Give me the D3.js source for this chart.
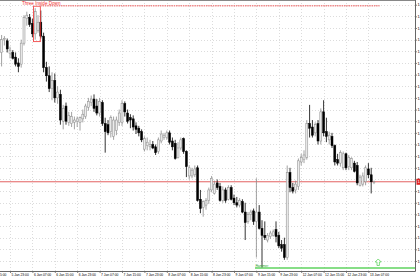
<!DOCTYPE html>
<html>
<head>
<meta charset="utf-8">
<script src="https://cdn.jsdelivr.net/npm/d3@7"></script>
<style>
body { margin: 0; background: #fff; }
svg { display: block; font-family: "Liberation Sans", Arial, sans-serif; }
</style>
</head>
<body>
<svg id="chart"></svg>
<script>
// H1 bars, 5 Jan 20:00 -> 13 Jan 09:00
var opens = [1.1899,1.1910,1.1909,1.1898,1.1899,1.1895,1.1890,1.1889,1.1907,1.1928,
    1.1929,1.1924,1.1915,1.1918,1.1925,1.1913,1.1886,1.1879,1.1868,1.1875,
    1.1860,1.1863,1.1840,1.1853,1.1839,1.1838,1.1839,1.1840,1.1839,1.1842,
    1.1844,1.1852,1.1856,1.1859,1.1853,1.1847,1.1856,1.1838,1.1837,1.1831,
    1.1827,1.1832,1.1839,1.1839,1.1855,1.1847,1.1843,1.1842,1.1836,1.1834,
    1.1831,1.1816,1.1819,1.1818,1.1820,1.1818,1.1814,1.1823,1.1826,1.1826,
    1.1830,1.1823,1.1821,1.1809,1.1817,1.1825,1.1814,1.1793,1.1793,1.1794,
    1.1800,1.1773,1.1766,1.1768,1.1772,1.1781,1.1778,1.1787,1.1784,1.1772,
    1.1781,1.1773,1.1783,1.1774,1.1770,1.1768,1.1771,1.1762,1.1754,1.1760,
    1.1763,1.1754,1.1762,1.1748,1.1742,1.1738,1.1741,1.1742,1.1747,1.1742,
    1.1734,1.1734,1.1723,1.1796,1.1783,1.1781,1.1784,1.1805,1.1807,1.1809,
    1.1838,1.1835,1.1830,1.1838,1.1823,1.1848,1.1831,1.1824,1.1827,1.1819,
    1.1807,1.1804,1.1800,1.1812,1.1801,1.1800,1.1804,1.1802,1.1785,1.1786,
    1.1788,1.1799,1.1794,1.1788];
var highs = [1.1914,1.1913,1.1911,1.1904,1.1901,1.1899,1.1894,1.1910,1.1931,1.1934,
    1.1932,1.1928,1.1937,1.1931,1.1935,1.1916,1.1891,1.1887,1.1882,1.1881,
    1.1870,1.1867,1.1854,1.1856,1.1848,1.1848,1.1844,1.1844,1.1844,1.1850,
    1.1855,1.1860,1.1862,1.1863,1.1859,1.1860,1.1858,1.1843,1.1841,1.1845,
    1.1844,1.1844,1.1850,1.1858,1.1857,1.1850,1.1846,1.1845,1.1839,1.1836,
    1.1833,1.1827,1.1826,1.1824,1.1823,1.1820,1.1826,1.1832,1.1830,1.1832,
    1.1832,1.1826,1.1824,1.1822,1.1826,1.1826,1.1815,1.1802,1.1800,1.1802,
    1.1802,1.1781,1.1772,1.1774,1.1783,1.1793,1.1789,1.1790,1.1787,1.1784,
    1.1783,1.1785,1.1785,1.1777,1.1775,1.1774,1.1773,1.1770,1.1762,1.1764,
    1.1765,1.1791,1.1768,1.1755,1.1754,1.1744,1.1746,1.1747,1.1754,1.1745,
    1.1738,1.1740,1.1802,1.1800,1.1787,1.1789,1.1808,1.1812,1.1815,1.1841,
    1.1854,1.1841,1.1839,1.1841,1.1851,1.1858,1.1843,1.1831,1.1830,1.1820,
    1.1812,1.1815,1.1814,1.1813,1.1811,1.1809,1.1806,1.1805,1.1794,1.1796,
    1.1802,1.1804,1.1800,1.1789];
var lows = [1.1887,1.1905,1.1899,1.1894,1.1893,1.1887,1.1882,1.1886,1.1905,1.1922,
    1.1921,1.1912,1.1910,1.1916,1.1911,1.1882,1.1874,1.1865,1.1858,1.1856,
    1.1855,1.1837,1.1833,1.1837,1.1836,1.1835,1.1833,1.1835,1.1832,1.1839,
    1.1842,1.1849,1.1853,1.1848,1.1845,1.1844,1.1836,1.1813,1.1828,1.1826,
    1.1824,1.1828,1.1836,1.1836,1.1844,1.1838,1.1834,1.1832,1.1829,1.1827,
    1.1822,1.1814,1.1815,1.1815,1.1816,1.1811,1.1812,1.1821,1.1824,1.1824,
    1.1820,1.1815,1.1807,1.1808,1.1815,1.1812,1.1792,1.1790,1.1791,1.1792,
    1.1771,1.1761,1.1758,1.1764,1.1769,1.1779,1.1777,1.1781,1.1771,1.1770,
    1.1770,1.1772,1.1772,1.1768,1.1766,1.1766,1.1761,1.1738,1.1752,1.1755,
    1.1751,1.1723,1.1747,1.1714,1.1738,1.1736,1.1739,1.1741,1.1736,1.1731,
    1.1728,1.1721,1.1721,1.1779,1.1778,1.1778,1.1781,1.1802,1.1804,1.1807,
    1.1826,1.1826,1.1827,1.1820,1.1820,1.1827,1.1822,1.1820,1.1817,1.1802,
    1.1802,1.1801,1.1798,1.1798,1.1798,1.1798,1.1796,1.1785,1.1784,1.1784,
    1.1785,1.1791,1.1778,1.1786];
var closes = [1.1910,1.1911,1.1902,1.1901,1.1894,1.1889,1.1887,1.1907,1.1929,1.1931,
    1.1923,1.1915,1.1934,1.1925,1.1913,1.1886,1.1879,1.1868,1.1875,1.1860,
    1.1865,1.1841,1.1851,1.1840,1.1845,1.1844,1.1841,1.1842,1.1843,1.1846,
    1.1853,1.1857,1.1859,1.1851,1.1847,1.1857,1.1838,1.1831,1.1830,1.1843,
    1.1841,1.1841,1.1847,1.1855,1.1848,1.1840,1.1841,1.1835,1.1833,1.1830,
    1.1824,1.1825,1.1822,1.1820,1.1817,1.1813,1.1824,1.1829,1.1828,1.1830,
    1.1822,1.1818,1.1808,1.1817,1.1824,1.1814,1.1801,1.1800,1.1798,1.1799,
    1.1772,1.1765,1.1771,1.1772,1.1781,1.1791,1.1786,1.1783,1.1772,1.1781,
    1.1772,1.1783,1.1773,1.1770,1.1768,1.1772,1.1762,1.1753,1.1760,1.1762,
    1.1754,1.1762,1.1748,1.1742,1.1740,1.1742,1.1744,1.1745,1.1741,1.1733,
    1.1731,1.1723,1.1796,1.1783,1.1780,1.1786,1.1806,1.1809,1.1811,1.1838,
    1.1834,1.1828,1.1837,1.1823,1.1848,1.1830,1.1827,1.1828,1.1819,1.1805,
    1.1804,1.1813,1.1812,1.1800,1.1809,1.1808,1.1797,1.1787,1.1792,1.1793,
    1.1800,1.1794,1.1788,1.1788];

var timeTickBars = [-5,3,11,19,27,35,43,51,59,67,75,83,91,99,107,115,123,131];
var timeTickLabels = ["5 Jan 15:00","5 Jan 23:00","6 Jan 07:00","6 Jan 15:00","6 Jan 23:00",
    "7 Jan 07:00","7 Jan 15:00","7 Jan 23:00","8 Jan 07:00","8 Jan 15:00","8 Jan 23:00",
    "9 Jan 07:00","9 Jan 15:00","9 Jan 23:00","12 Jan 07:00","12 Jan 15:00","12 Jan 23:00","13 Jan 07:00"];
var priceTicks = [1.1720,1.1730,1.1740,1.1750,1.1760,1.1770,1.1780,1.1790,1.1800,1.1810,1.1820,
    1.1830,1.1840,1.1850,1.1860,1.1870,1.1880,1.1890,1.1900,1.1910,1.1920,1.1930,1.1940];

var bearPatternName = "Three Inside Down";
var bearPatternBars = [12, 14];
var bullPatternName = "Hammer";
var bullPatternBar = 93;

var width = 420, height = 280;
var plotRight = 415, plotBottom = 271;

var svg = d3.select("#chart")
    .attr("width", width)
    .attr("height", height);

var x = d3.scaleLinear()
    .domain([0, 133])
    .range([1.6, 374]);
var y = d3.scaleLinear()
    .domain([1.1720, 1.1940])
    .range([261, 4.7]);

svg.append("clipPath").attr("id", "plotclip")
    .append("rect")
    .attr("x", 0).attr("y", 0)
    .attr("width", plotRight).attr("height", plotBottom);

var grid = svg.append("g").attr("clip-path", "url(#plotclip)");
grid.selectAll(".hgrid")
    .data(priceTicks)
    .enter().append("line")
    .attr("x1", 0).attr("x2", plotRight)
    .attr("y1", function(d) { return Math.round(y(d)) + 0.5; })
    .attr("y2", function(d) { return Math.round(y(d)) + 0.5; })
    .attr("stroke", "#dcdcdc")
    .attr("stroke-dasharray", "1,2");
grid.selectAll(".vgrid")
    .data(timeTickBars)
    .enter().append("line")
    .attr("x1", function(d) { return Math.round(x(d)) + 0.5; })
    .attr("x2", function(d) { return Math.round(x(d)) + 0.5; })
    .attr("y1", 0).attr("y2", plotBottom)
    .attr("stroke", "#dcdcdc")
    .attr("stroke-dasharray", "1,2");

var plot = svg.append("g").attr("clip-path", "url(#plotclip)");

// current price line
var lastPrice = closes[closes.length - 1];
plot.append("line")
    .attr("x1", 0).attr("x2", plotRight)
    .attr("y1", y(lastPrice)).attr("y2", y(lastPrice))
    .attr("stroke", "#e05050")
    .attr("stroke-width", 0.9);

var bars = d3.range(opens.length);
plot.selectAll(".wick")
    .data(bars)
    .enter().append("line")
    .attr("x1", function(i) { return x(i); })
    .attr("x2", function(i) { return x(i); })
    .attr("y1", function(i) { return y(highs[i]); })
    .attr("y2", function(i) { return y(lows[i]); })
    .attr("stroke", function(i) { return closes[i] >= opens[i] ? "#8a8a8a" : "#000"; })
    .attr("stroke-width", 0.8);
plot.selectAll(".body")
    .data(bars)
    .enter().append("rect")
    .attr("x", function(i) { return x(i) - 1; })
    .attr("width", 2)
    .attr("y", function(i) { return y(Math.max(opens[i], closes[i])); })
    .attr("height", function(i) { return Math.max(0.6, Math.abs(y(opens[i]) - y(closes[i]))); })
    .attr("fill", function(i) { return closes[i] >= opens[i] ? "#ececec" : "#000"; })
    .attr("stroke", function(i) { return closes[i] >= opens[i] ? "#8a8a8a" : "#000"; })
    .attr("stroke-width", 0.5);

// bearish pattern marker
var pHigh = d3.max(d3.range(bearPatternBars[0], bearPatternBars[1] + 1), function(i) { return highs[i]; });
var pLow = d3.min(d3.range(bearPatternBars[0], bearPatternBars[1] + 1), function(i) { return lows[i]; });
plot.append("rect")
    .attr("x", x(bearPatternBars[0]) - 1.6)
    .attr("y", y(pHigh) - 2)
    .attr("width", x(bearPatternBars[1]) - x(bearPatternBars[0]) + 1.1)
    .attr("height", y(pLow) - y(pHigh) + 4)
    .attr("fill", "none")
    .attr("stroke", "#f03030")
    .attr("stroke-width", 0.8);
plot.append("line")
    .attr("x1", x(bearPatternBars[1]) - 0.5).attr("x2", x(135))
    .attr("y1", y(pHigh) - 2.5).attr("y2", y(pHigh) - 2.5)
    .attr("stroke", "#f08a8a")
    .attr("stroke-width", 1.4)
    .attr("stroke-dasharray", "1.5,0.8");
plot.append("text")
    .attr("x", x(bearPatternBars[0]) + 6)
    .attr("y", 5)
    .attr("text-anchor", "middle")
    .attr("font-size", "4.6px")
    .attr("fill", "#f03030")
    .text(bearPatternName);

// bullish pattern marker
var gY = y(lows[bullPatternBar]);
plot.append("line")
    .attr("x1", x(bullPatternBar - 2) - 1.4).attr("x2", plotRight)
    .attr("y1", gY).attr("y2", gY)
    .attr("stroke", "#5fd35f")
    .attr("stroke-width", 1.3);
plot.append("text")
    .attr("x", x(bullPatternBar - 2) - 1)
    .attr("y", gY - 0.6)
    .attr("font-size", "3.4px")
    .attr("fill", "#2fa02f")
    .text(bullPatternName);
var ax = x(134.5);
plot.append("path")
    .attr("d", "M" + ax + "," + (gY - 9) + " L" + (ax + 3) + "," + (gY - 6) + " L" + (ax + 1.2) + "," + (gY - 6) +
        " L" + (ax + 1.2) + "," + (gY - 2.5) + " L" + (ax - 1.2) + "," + (gY - 2.5) + " L" + (ax - 1.2) + "," + (gY - 6) +
        " L" + (ax - 3) + "," + (gY - 6) + " Z")
    .attr("fill", "#fff")
    .attr("stroke", "#5fd35f")
    .attr("stroke-width", 0.8);

// axes
var yAxis = svg.append("g")
    .attr("transform", "translate(" + plotRight + ",0)")
    .call(d3.axisRight(y).tickValues(priceTicks).tickSize(2).tickPadding(0.5).tickFormat(d3.format(".4f")));
yAxis.select(".domain").remove();
yAxis.selectAll("text").attr("font-size", "4px").attr("fill", "#000");
yAxis.selectAll("line").attr("stroke", "#333").attr("stroke-width", 0.6);

var xAxis = svg.append("g")
    .attr("transform", "translate(0," + plotBottom + ")")
    .call(d3.axisBottom(x).tickValues(timeTickBars).tickSize(2)
        .tickFormat(function(d, i) { return timeTickLabels[i]; }));
xAxis.select(".domain").remove();
xAxis.selectAll("text")
    .attr("text-anchor", "start")
    .attr("x", 1)
    .attr("y", 2.6)
    .attr("font-size", "3.3px")
    .attr("fill", "#000");
xAxis.selectAll("line").attr("stroke", "#333").attr("stroke-width", 0.6);

// chart frame
svg.append("line")
    .attr("x1", 0).attr("x2", plotRight)
    .attr("y1", 0.5).attr("y2", 0.5)
    .attr("stroke", "#888");
svg.append("line")
    .attr("x1", plotRight + 0.5).attr("x2", plotRight + 0.5)
    .attr("y1", 0).attr("y2", plotBottom + 0.5)
    .attr("stroke", "#666");
svg.append("line")
    .attr("x1", 0).attr("x2", plotRight + 0.5)
    .attr("y1", plotBottom + 0.5).attr("y2", plotBottom + 0.5)
    .attr("stroke", "#666");

// last price tag on the scale
svg.append("rect")
    .attr("x", plotRight + 1.5)
    .attr("y", y(lastPrice) - 3)
    .attr("width", 20)
    .attr("height", 6)
    .attr("fill", "#e02020");
svg.append("text")
    .attr("x", plotRight + 2.5)
    .attr("y", y(lastPrice) + 1.5)
    .attr("font-size", "4px")
    .attr("fill", "#fff")
    .text(d3.format(".4f")(lastPrice));
</script>
</body>
</html>
